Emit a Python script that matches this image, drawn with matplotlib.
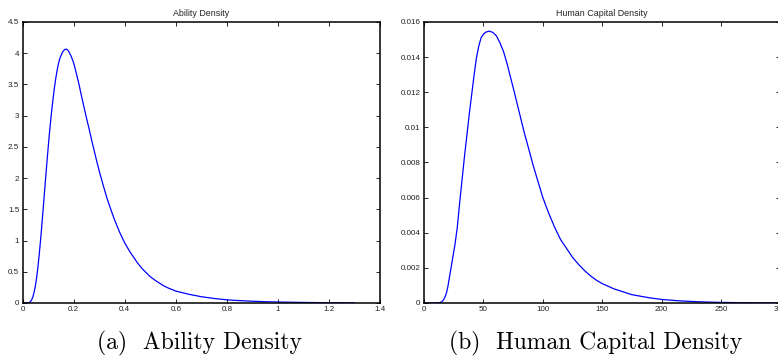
import matplotlib
matplotlib.use("Agg")
import matplotlib.pyplot as plt

# ability density
ability_x = [0.0, 0.02, 0.025, 0.03, 0.035, 0.04, 0.045, 0.05, 0.055, 0.06, 0.065,
             0.07, 0.075, 0.08, 0.085, 0.09, 0.095, 0.10, 0.105, 0.11, 0.115, 0.12,
             0.125, 0.13, 0.135, 0.14, 0.145, 0.15, 0.155, 0.16, 0.165, 0.17, 0.175,
             0.18, 0.19, 0.20, 0.21, 0.22, 0.23, 0.24, 0.25, 0.26, 0.27, 0.28, 0.29,
             0.30, 0.315, 0.33, 0.345, 0.36, 0.38, 0.40, 0.42, 0.45, 0.47, 0.50,
             0.52, 0.55, 0.57, 0.60, 0.65, 0.70, 0.75, 0.80, 0.85, 0.90, 0.95, 1.00,
             1.10, 1.20, 1.30]
ability_y = [0.0, 0.0, 0.005, 0.02, 0.05, 0.10, 0.18, 0.28, 0.42, 0.59, 0.79,
             1.01, 1.25, 1.50, 1.76, 2.01, 2.26, 2.50, 2.73, 2.94, 3.13, 3.31,
             3.47, 3.61, 3.73, 3.83, 3.91, 3.96, 4.01, 4.04, 4.06, 4.065, 4.055,
             4.03, 3.95, 3.84, 3.68, 3.51, 3.32, 3.14, 2.96, 2.79, 2.61, 2.44, 2.27,
             2.11, 1.89, 1.68, 1.50, 1.33, 1.13, 0.96, 0.82, 0.64, 0.54, 0.42,
             0.36, 0.28, 0.24, 0.19, 0.14, 0.10, 0.072, 0.05, 0.037, 0.028, 0.02, 0.015,
             0.008, 0.004, 0.002]

# human capital density
capital_x = [0, 10, 13, 15, 16, 17, 18, 19, 20, 22, 24, 26, 28, 30, 32, 34, 36, 38,
             40, 42, 44, 46, 48, 50, 52, 55, 58, 61, 64, 67, 70, 73, 76, 80, 84, 88,
             92, 96, 100, 105, 110, 115, 120, 125, 130, 135, 140, 145, 150, 160, 175,
             190, 200, 215, 230, 250, 275, 300]
capital_y = [0.0, 0.0, 0.00001, 0.00007, 0.00014, 0.00025, 0.0004, 0.0006, 0.0009,
             0.0017, 0.0025, 0.0033, 0.0043, 0.0057, 0.0070, 0.0083, 0.0095, 0.0107,
             0.0118, 0.0129, 0.0139, 0.0146, 0.0151, 0.0153, 0.01542, 0.01548, 0.0154,
             0.0152, 0.0148, 0.0143, 0.0136, 0.0128, 0.0120, 0.0109, 0.0098, 0.0088,
             0.0078, 0.0069, 0.0060, 0.0051, 0.0043, 0.0036, 0.0031, 0.0026, 0.0022,
             0.00185, 0.00155, 0.0013, 0.0011, 0.0008, 0.00047,
             0.00029, 0.0002, 0.00012, 0.00007, 0.00003, 0.00001, 0.0]

ability_ticks_x = [0, 0.2, 0.4, 0.6, 0.8, 1, 1.2, 1.4]
ability_ticks_y = [0, 0.5, 1, 1.5, 2, 2.5, 3, 3.5, 4, 4.5]
capital_ticks_x = [0, 50, 100, 150, 200, 250, 300]
capital_ticks_y = [0, 0.002, 0.004, 0.006, 0.008, 0.01, 0.012, 0.014, 0.016]

titles = ["Ability Density", "Human Capital Density"]
captions = ["(a)  Ability Density", "(b)  Human Capital Density"]

fig = plt.figure(figsize=(7.78, 3.56), dpi=100)
ax1 = fig.add_axes([0.0292, 0.149, 0.4592, 0.7893])
ax2 = fig.add_axes([0.545, 0.149, 0.4582, 0.7893])

panels = [
    (ax1, ability_x, ability_y, ability_ticks_x, ability_ticks_y, (0, 1.4), (0, 4.5)),
    (ax2, capital_x, capital_y, capital_ticks_x, capital_ticks_y, (0, 300), (0, 0.016)),
]

for i, (ax, x, y, tx, ty, xl, yl) in enumerate(panels):
    ax.plot(x, y, color="#0000ff", lw=0.9)
    ax.set_xlim(*xl)
    ax.set_ylim(*yl)
    ax.set_xticks(tx)
    ax.set_yticks(ty)
    ax.set_xticklabels([f"{v:g}" for v in tx])
    ax.set_yticklabels([f"{v:g}" for v in ty])
    ax.tick_params(direction="in", length=3, width=0.6, top=True, right=True,
                   labelsize=5.8, pad=2.5)
    for lab in ax.get_xticklabels() + ax.get_yticklabels():
        lab.set_family("Liberation Sans")
        lab.set_color("#222222")
    for sp in ax.spines.values():
        sp.set_linewidth(1.1)
    ax.set_title(titles[i], fontsize=6.4, family="Liberation Sans", color="#222222", pad=4)

fig.text(0.256, 0.036, captions[0], family="cmr10", fontsize=17, ha="center", va="center")
fig.text(0.766, 0.036, captions[1], family="cmr10", fontsize=17, ha="center", va="center")

fig.savefig("out.png", dpi=100)
